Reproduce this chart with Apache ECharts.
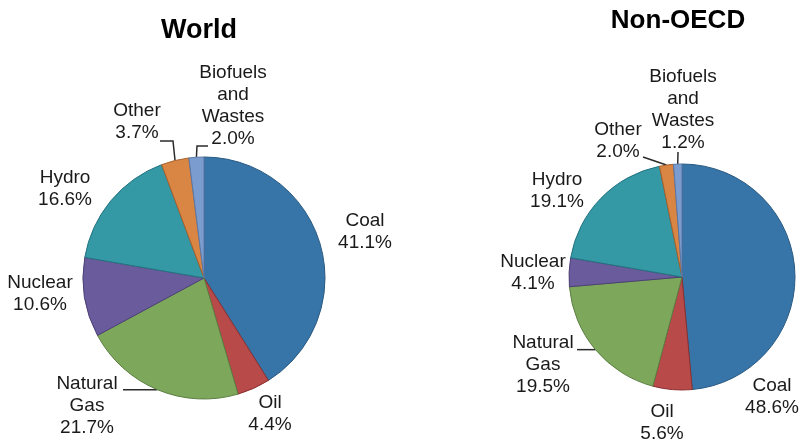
<!DOCTYPE html>
<html>
<head>
<meta charset="utf-8">
<script src="https://cdn.jsdelivr.net/npm/echarts@6/dist/echarts.min.js"></script>
<style>
  html, body { margin: 0; padding: 0; background: #ffffff; }
  #chart { width: 799px; height: 439px; }
</style>
</head>
<body>
<div id="chart"></div>
<script>
// Electricity generation by fuel, share of total (%)
const fuels = ['Coal', 'Oil', 'Natural Gas', 'Nuclear', 'Hydro', 'Other', 'Biofuels and Wastes'];
const fuelLabels = ['Coal', 'Oil', 'Natural\nGas', 'Nuclear', 'Hydro', 'Other', 'Biofuels\nand\nWastes'];
const worldShare = [41.1, 4.4, 21.7, 10.6, 16.6, 3.7, 2.0];
const nonOecdShare = [48.6, 5.6, 19.5, 4.1, 19.1, 2.0, 1.2];
const chartTitles = ['World', 'Non-OECD'];

// Slice fills and their darker outlines
const fills = ['#3775a8', '#b84a4a', '#7da85c', '#6a5b9c', '#3498a5', '#d98543', '#7b9ccf'];
const edges = ['#2a5a82', '#8a3030', '#5d7f43', '#4d4178', '#237380', '#a8612c', '#5a78a8'];

// Label centres (px) for each pie, in fuel order
const worldLabelPos = [[365, 232], [270, 414], [87, 406], [40, 294], [65, 189], [137, 122], [233, 106]];
const nonOecdLabelPos = [[772, 397], [662, 423], [543, 365], [533, 273], [557, 191], [618, 141], [683, 110]];

// Leader-line bends after the anchor on the slice edge (null = no line)
const worldGuides = [null, null, [[123, null]], null, null, [[173, 141], [160, 141]], [[197, 146], [208, 146]]];
const nonOecdGuides = [null, null, [[577, null]], null, null, [[643, 157]], [[678, 152]]];

function buildData(values, guides) {
  return values.map((v, i) => ({
    name: fuels[i],
    value: v,
    itemStyle: { color: fills[i], borderColor: edges[i], borderWidth: 1 },
    labelLine: { show: guides[i] !== null }
  }));
}

function makeLayout(positions, guides) {
  return function (params) {
    const i = params.dataIndex;
    const out = {
      x: positions[i][0],
      y: positions[i][1],
      align: 'center',
      verticalAlign: 'middle'
    };
    if (guides[i] && params.labelLinePoints) {
      const a = params.labelLinePoints[0];
      const pts = [[a[0], a[1]]];
      guides[i].forEach(p => pts.push([p[0], p[1] === null ? a[1] : p[1]]));
      out.labelLinePoints = pts;
    }
    return out;
  };
}

function pieSeries(values, center, radius, positions, guides) {
  return {
    type: 'pie',
    center: center,
    radius: radius,
    startAngle: 90,
    clockwise: true,
    avoidLabelOverlap: false,
    silent: true,
    animation: false,
    data: buildData(values, guides),
    label: {
      show: true,
      position: 'outside',
      formatter: p => fuelLabels[p.dataIndex] + '\n' + p.value.toFixed(1) + '%',
      fontFamily: 'Liberation Sans, Arial, sans-serif',
      fontSize: 19,
      lineHeight: 22,
      color: '#1a1a1a'
    },
    labelLine: {
      show: true,
      lineStyle: { color: '#2b2b2b', width: 1.5 }
    },
    labelLayout: makeLayout(positions, guides)
  };
}

const chart = echarts.init(document.getElementById('chart'), null, { renderer: 'canvas' });
chart.setOption({
  backgroundColor: '#ffffff',
  title: [
    {
      text: chartTitles[0], left: 194, top: 26, textAlign: 'center', textVerticalAlign: 'middle',
      textStyle: { fontFamily: 'Liberation Sans, Arial, sans-serif', fontWeight: 'bold', fontSize: 27, color: '#000' }
    },
    {
      text: chartTitles[1], left: 673, top: 16, textAlign: 'center', textVerticalAlign: 'middle',
      textStyle: { fontFamily: 'Liberation Sans, Arial, sans-serif', fontWeight: 'bold', fontSize: 26, color: '#000' }
    }
  ],
  series: [
    pieSeries(worldShare, [204, 278], 121, worldLabelPos, worldGuides),
    pieSeries(nonOecdShare, [682, 277], 113, nonOecdLabelPos, nonOecdGuides)
  ]
});
</script>
</body>
</html>
